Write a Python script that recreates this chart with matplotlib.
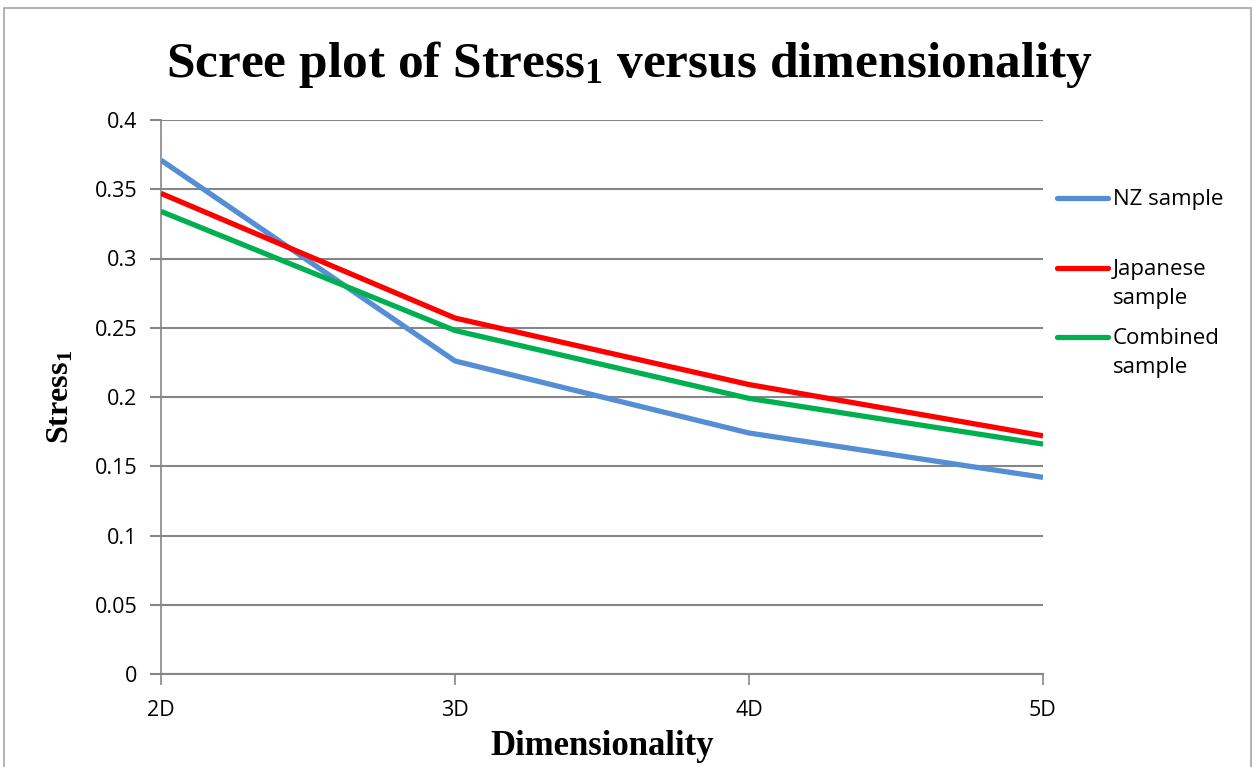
import matplotlib
matplotlib.use("Agg")
import matplotlib.pyplot as plt
from matplotlib.lines import Line2D
from matplotlib.patches import Rectangle

dims = ["2D", "3D", "4D", "5D"]
nz = [0.371, 0.226, 0.174, 0.142]
japanese = [0.347, 0.257, 0.209, 0.172]
combined = [0.334, 0.248, 0.199, 0.166]
names = ["NZ sample", "Japanese\nsample", "Combined\nsample"]
yticks = [0, 0.05, 0.1, 0.15, 0.2, 0.25, 0.3, 0.35, 0.4]

cols = ["#558ED5", "#FF0000", "#00B050"]
grid_col = "#868686"

plt.rcParams["mathtext.fontset"] = "custom"
plt.rcParams["mathtext.rm"] = "Liberation Serif:bold"
plt.rcParams["mathtext.it"] = "Liberation Serif:bold"
plt.rcParams["mathtext.bf"] = "Liberation Serif:bold"

fig = plt.figure(figsize=(12.55, 7.67), dpi=100)
ax = fig.add_axes([161/1255, 1 - 674/767, (1043 - 161)/1255, (674 - 120)/767])

# chart border
fig.add_artist(Rectangle((4/1255, -0.01), 1247/1255, 1 - 8/767 + 0.01, transform=fig.transFigure,
                         fill=False, edgecolor="#A6A6A6", lw=1.2))

x = list(range(len(dims)))
for vals, c in zip([nz, japanese, combined], cols):
    ax.plot(x, vals, color=c, lw=3.8, solid_capstyle="butt", zorder=3)

ax.set_xlim(0, 3)
ax.set_ylim(0, 0.4)
ax.set_yticks(yticks)
ax.set_yticklabels(["0", "0.05", "0.1", "0.15", "0.2", "0.25", "0.3", "0.35", "0.4"])
ax.set_xticks(x)
ax.set_xticklabels(dims)
ax.yaxis.grid(True, color=grid_col, lw=1.5)
ax.set_axisbelow(True)
for s in ["top", "right"]:
    ax.spines[s].set_visible(False)
ax.spines["left"].set_color(grid_col)
ax.spines["left"].set_linewidth(1.2)
ax.spines["bottom"].set_color(grid_col)
ax.spines["bottom"].set_linewidth(1.5)
ax.tick_params(axis="y", colors=grid_col, length=8, width=1.5, labelcolor="black",
               labelsize=15.5, pad=9)
ax.tick_params(axis="x", colors=grid_col, length=8, width=1.2, labelcolor="black",
               labelsize=15.5, pad=11)
for lab in ax.get_xticklabels() + ax.get_yticklabels():
    lab.set_family("Open Sans")

ax.set_xlabel("Dimensionality", family="Liberation Serif", fontweight="bold",
              fontsize=25, labelpad=6)
ax.set_ylabel("Stress$_1$", family="Liberation Serif", fontweight="bold",
              fontsize=23, labelpad=14)

fig.text(0.502, 0.916, "Scree plot of Stress$_1$ versus dimensionality", ha="center",
         va="center", family="Liberation Serif", fontweight="bold", fontsize=37)

# legend drawn by hand to keep handles on the first line
leg_y = [198, 268, 337]
for name, c, yy in zip(names, cols, leg_y):
    yf = 1 - yy/767
    fig.add_artist(Line2D([1057/1255, 1108/1255], [yf, yf], color=c, lw=3.8,
                          solid_capstyle="round", transform=fig.transFigure))
    fig.text(1113/1255, yf + 0.012, name, ha="left", va="top", family="Open Sans",
             fontsize=16, linespacing=1.5)

fig.savefig("out.png", dpi=100)
